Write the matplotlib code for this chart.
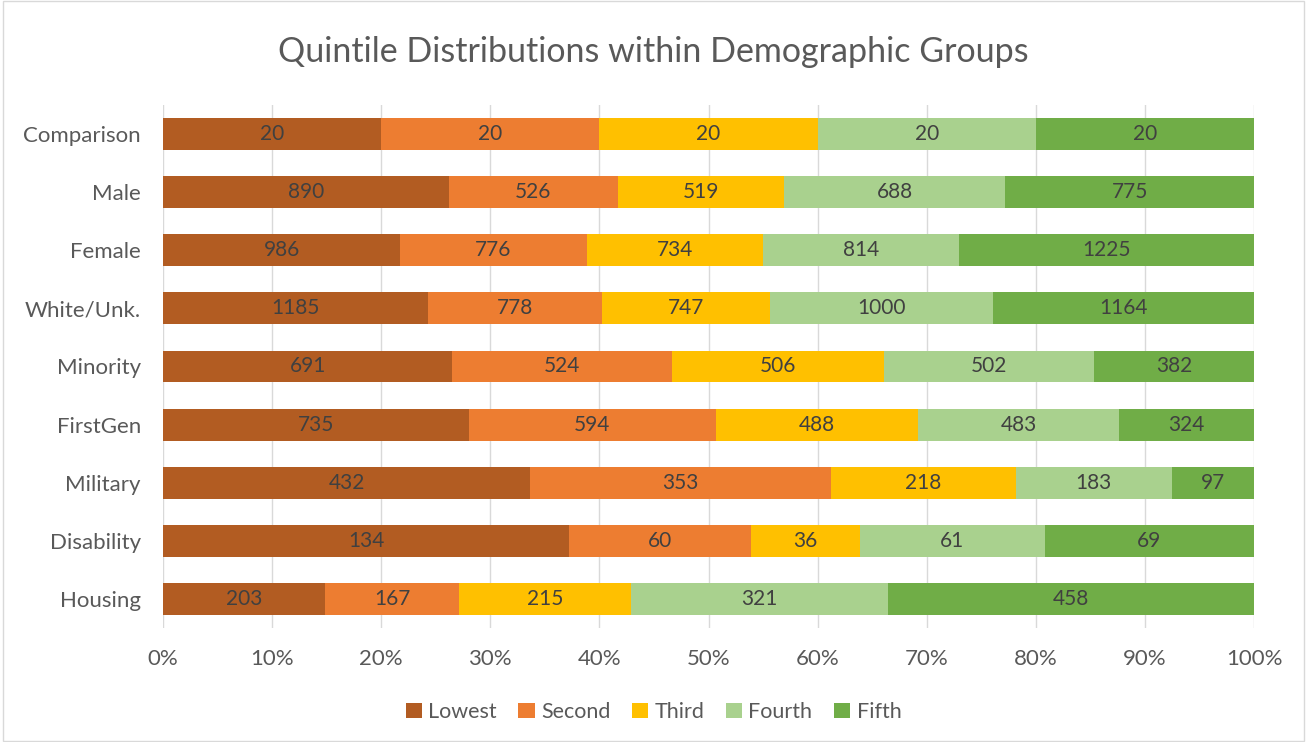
#!/usr/bin/env python3

import numpy as np
import matplotlib
matplotlib.use("Agg")
import matplotlib.pyplot as plt
import matplotlib.ticker as mticker

#-- data
groups = ["Comparison", "Male", "Female", "White/Unk.", "Minority",
          "FirstGen", "Military", "Disability", "Housing"]
quintiles = ["Lowest", "Second", "Third", "Fourth", "Fifth"]
lowest = [20, 890, 986, 1185, 691, 735, 432, 134, 203]
second = [20, 526, 776, 778, 524, 594, 353, 60, 167]
third = [20, 519, 734, 747, 506, 488, 218, 36, 215]
fourth = [20, 688, 814, 1000, 502, 483, 183, 61, 321]
fifth = [20, 775, 1225, 1164, 382, 324, 97, 69, 458]

colors = ["#B25C22", "#ED7D31", "#FFC000", "#A9D18E", "#70AD47"]
txt = "#595959"

plt.rcParams['font.family'] = ['Lato', 'DejaVu Sans']

counts = np.array([lowest, second, third, fourth, fifth], dtype=float)
shares = counts / counts.sum(axis=0)

fig = plt.figure(figsize=(13.07, 7.42), dpi=100)
fig.patches.append(plt.Rectangle((0.002, 0.002), 0.996, 0.996, transform=fig.transFigure,
                                 fill=False, edgecolor="#D9D9D9", linewidth=1))
ax = fig.add_axes([163 / 1307, 1 - 628 / 742, (1254 - 163) / 1307, (628 - 105) / 742])

y = np.arange(len(groups))
left = np.zeros(len(groups))
for i, name in enumerate(quintiles):
    ax.barh(y, shares[i], left=left, height=0.55, color=colors[i], label=name, zorder=3)
    for j in range(len(groups)):
        ax.text(left[j] + shares[i][j] / 2, y[j], f"{int(counts[i][j])}",
                ha="center", va="center", fontsize=15, color="#404040", zorder=4)
    left += shares[i]

ax.set_xlim(0, 1)
ax.set_ylim(len(groups) - 0.5, -0.5)
ax.set_yticks(y)
ax.set_yticklabels(groups, fontsize=16, color=txt)
ax.set_xticks(np.linspace(0, 1, 11))
ax.xaxis.set_major_formatter(mticker.PercentFormatter(1.0, decimals=0))
ax.tick_params(axis="x", labelsize=16, labelcolor=txt, length=0, pad=15)
ax.tick_params(axis="y", length=0, pad=16)
ax.grid(axis="x", color="#D9D9D9", linewidth=1, zorder=0)
for s in ax.spines.values():
    s.set_visible(False)

fig.text(0.5, 1 - 52 / 742, "Quintile Distributions within Demographic Groups",
         ha="center", va="center", fontsize=24.5, color=txt)

fig.legend(loc="center", bbox_to_anchor=(0.5, 1 - 712 / 742), ncol=5, frameon=False,
           fontsize=15.5, labelcolor=txt, handlelength=0.75, handleheight=0.75,
           handletextpad=0.3, columnspacing=1.0)

fig.savefig("out.png", dpi=100)
